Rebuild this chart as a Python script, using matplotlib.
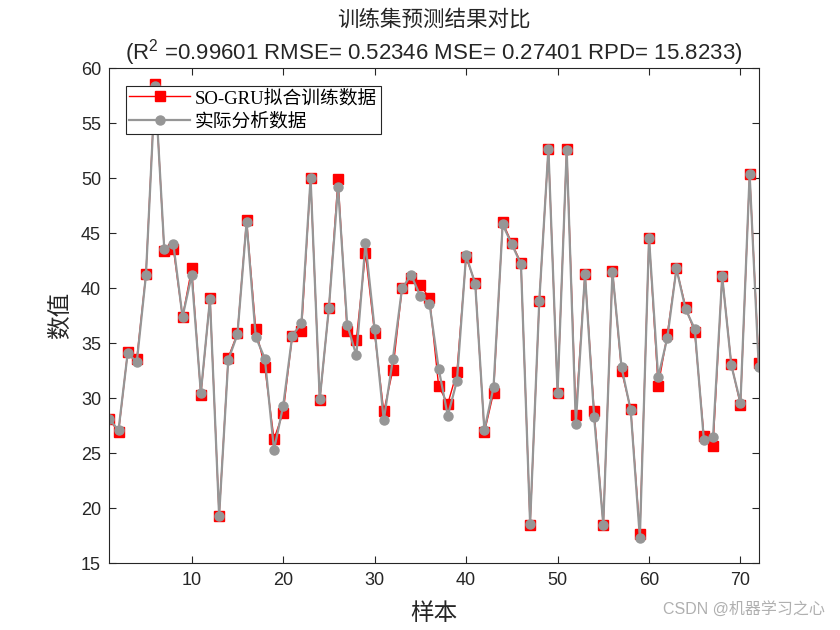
import matplotlib
matplotlib.use("Agg")
import matplotlib.pyplot as plt
import numpy as np

# sample index 1..72
samples = np.arange(1, 73)

# SO-GRU fitted values (red squares)
pred = [28.1, 26.9, 34.2, 33.6, 41.3, 58.6, 43.4, 43.6, 37.4, 41.8,
        30.3, 39.1, 19.3, 33.7, 35.9, 46.2, 36.3, 32.8, 26.3, 28.7,
        35.7, 36.1, 50.0, 29.8, 38.2, 49.9, 36.1, 35.3, 43.2, 35.9,
        28.8, 32.6, 40.0, 40.9, 40.3, 39.1, 31.1, 29.5, 32.4, 42.8,
        40.5, 26.9, 30.5, 46.0, 44.1, 42.3, 18.5, 38.8, 52.7, 30.5,
        52.7, 28.5, 41.3, 28.8, 18.5, 41.6, 32.5, 29.0, 17.7, 44.6,
        31.1, 35.8, 41.8, 38.3, 36.0, 26.6, 25.7, 41.1, 33.1, 29.4,
        50.4, 33.2]

# measured values (gray circles)
actual = [28.1, 27.1, 34.1, 33.3, 41.2, 58.4, 43.6, 44.0, 37.4, 41.2,
          30.5, 39.0, 19.3, 33.5, 35.8, 46.0, 35.6, 33.6, 25.3, 29.3,
          35.7, 36.8, 50.0, 29.9, 38.2, 49.2, 36.7, 33.9, 44.1, 36.3,
          28.0, 33.6, 40.0, 41.2, 39.3, 38.6, 32.7, 28.4, 31.6, 43.0,
          40.4, 27.1, 31.0, 45.8, 44.0, 42.2, 18.6, 38.8, 52.7, 30.5,
          52.6, 27.7, 41.3, 28.3, 18.5, 41.5, 32.8, 28.9, 17.3, 44.6,
          31.9, 35.5, 41.8, 38.1, 36.3, 26.2, 26.5, 41.1, 33.0, 29.6,
          50.4, 32.8]

title_cn = "训练集预测结果对比"
title_stats = "(R$^2$ =0.99601 RMSE= 0.52346 MSE= 0.27401 RPD= 15.8233)"
legend_labels = ["SO-GRU拟合训练数据", "实际分析数据"]

sans = ["Liberation Sans", "Noto Sans CJK SC", "DejaVu Sans"]
serif = ["Liberation Serif", "Noto Sans CJK SC", "DejaVu Sans"]
plt.rcParams["font.family"] = sans
plt.rcParams["mathtext.fontset"] = "custom"
plt.rcParams["mathtext.rm"] = "Liberation Sans"

fig = plt.figure(figsize=(8.4, 6.3), dpi=100)
ax = fig.add_axes([0.1302, 0.1059, 0.7731, 0.7857])

ax.plot(samples, pred, color="red", linewidth=1.0, marker="s", markersize=7,
        markerfacecolor="red", markeredgecolor="red", label=legend_labels[0])
ax.plot(samples, actual, color="#969696", linewidth=1.6, marker="o", markersize=6.5,
        markerfacecolor="#969696", markeredgecolor="#969696", label=legend_labels[1])

ax.set_xlim(1, 72)
ax.set_ylim(15, 60)
ax.set_xticks(np.arange(10, 71, 10))
ax.set_yticks(np.arange(15, 61, 5))
ax.tick_params(direction="in", top=True, right=True, length=5, width=0.8,
               labelsize=13, colors="#262626", labelcolor="#262626", pad=6)
for s in ax.spines.values():
    s.set_linewidth(0.8)
    s.set_color("#262626")

ax.set_xlabel("样本", fontsize=17, color="#262626", labelpad=10)
ax.set_ylabel("数值", fontsize=17, color="#262626", labelpad=6)

fig.text(0.5165, 0.968, title_cn, ha="center", va="center", fontsize=15.5, color="#262626")
fig.text(0.5165, 0.917, title_stats, ha="center", va="center", fontsize=16, color="#262626")

leg = ax.legend(loc="upper left", bbox_to_anchor=(0.025, 0.965), prop={"family": serif, "size": 13.5},
                handlelength=3.25, fancybox=False, framealpha=1, edgecolor="#262626",
                borderpad=0.2, labelspacing=0.3, handletextpad=0.25, borderaxespad=0)
leg.get_frame().set_linewidth(0.8)

fig.text(0.982, 0.034, "CSDN @机器学习之心", ha="right", va="center", fontsize=11.5, color="#b0b0b0")

fig.savefig("out.png", dpi=100)
